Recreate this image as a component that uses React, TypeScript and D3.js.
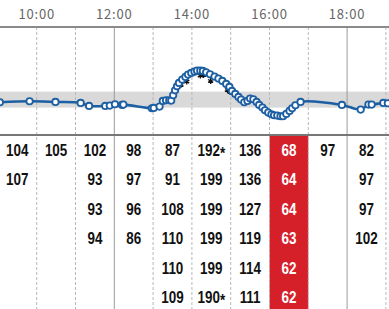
import React from "react";
import * as d3 from "d3";

const W = 389;
const H = 309;

// axis tick labels (hours)
const tickHours = [10, 12, 14, 16, 18];
const tickLabels = ["10:00", "12:00", "14:00", "16:00", "18:00"];
const gridHours = [10, 11, 12, 13, 14, 15, 16, 17, 18, 19];
const solidGridHours = [12, 18];

// target band (mg/dL)
const bandLow = 88;
const bandHigh = 136;

// glucose readings
const readingTimes = [
  "9:03", "9:49", "10:29", "11:08", "11:21", "11:46", "11:53", "12:01", "12:12", "12:14",
  "12:58", "13:01", "13:10", "13:15", "13:20", "13:25", "13:28", "13:31", "13:34", "13:37",
  "13:40", "13:45", "13:50", "13:54", "13:59", "14:04", "14:08", "14:13", "14:17", "14:22",
  "14:28", "14:35", "14:41", "14:47", "14:53", "14:58", "15:02", "15:07", "15:12", "15:16",
  "15:21", "15:26", "15:30", "15:35", "15:40", "15:44", "15:49", "15:53", "15:58", "16:03",
  "16:07", "16:12", "16:17", "16:21", "16:26", "16:31", "16:35", "16:40", "16:48", "17:52",
  "18:21", "18:33", "18:38", "18:56", "19:03",
];
const readingValues = [
  104, 107, 105, 102, 93, 93, 94, 98, 96, 97,
  86, 87, 91, 108, 110, 110, 109, 125, 140, 152,
  162, 172, 180, 187, 192, 196, 199, 199, 198, 194,
  188, 181, 175, 168, 159, 150, 138, 129, 120, 112,
  104, 108, 115, 113, 105, 96, 88, 80, 73, 68,
  65, 64, 62, 62, 69, 78, 86, 95, 105, 96,
  82, 97, 97, 102, 101,
];

// secondary "*" readings
const starTimes = ["13:43", "13:52", "14:13", "14:18", "14:29", "14:55", "14:59"];
const starValues = [156, 166, 184, 186, 168, 141, 135];

// table: readings per hour column
const tableHours = [9, 10, 11, 12, 13, 14, 15, 16, 17, 18];
const tableValues: string[][] = [
  ["104", "107"],
  ["105"],
  ["102", "93", "93", "94"],
  ["98", "97", "96", "86"],
  ["87", "91", "108", "110", "110", "109"],
  ["192*", "199", "199", "199", "199", "190*"],
  ["136", "136", "127", "119", "114", "111"],
  ["68", "64", "64", "63", "62", "62"],
  ["97"],
  ["82", "97", "97", "102"],
];
const alertHours = [16];

const toHour = (s: string) => {
  const [h, m] = s.split(":").map(Number);
  return h + m / 60;
};

export default function App() {
  const x = d3.scaleLinear().domain([10, 19]).range([36.7, 385.9]);
  const y = d3.scaleLinear().domain([0, 330]).range([136.9, 27]);

  const pts: [number, number][] = readingTimes.map((t, i) => [x(toHour(t)), y(readingValues[i])]);
  const line = d3.line().curve(d3.curveCatmullRom.alpha(0.5))(pts) || "";
  const star = d3.symbol(d3.symbolAsterisk, 24)() || "";

  const plotTop = 27;
  const plotBottom = 135;
  const rowBase = 156;
  const rowStep = 29.4;

  return (
    <svg
      width={W}
      height={H}
      style={{ position: "absolute", left: 0, top: 0, background: "#fff" }}
      fontFamily="'Liberation Sans', Arial, sans-serif"
    >
      {/* alert column */}
      {alertHours.map((h) => (
        <rect key={h} x={x(h)} y={plotBottom + 1} width={x(h + 1) - x(h)} height={H - plotBottom - 1} fill="#d5202a" />
      ))}
      {/* target band */}
      <rect x={0} y={y(bandHigh)} width={W} height={y(bandLow) - y(bandHigh)} fill="#d9d9d9" />
      {/* grid */}
      {gridHours.map((h) => {
        const solid = solidGridHours.includes(h);
        return (
          <line
            key={h}
            x1={x(h)}
            x2={x(h)}
            y1={plotTop}
            y2={H}
            stroke={solid ? "#9a9a9a" : "#b8b8b8"}
            strokeWidth={1}
            strokeDasharray={solid ? undefined : "3,2"}
          />
        );
      })}
      <line x1={0} x2={W} y1={plotTop} y2={plotTop} stroke="#8a8a8a" strokeWidth={2} />
      <line x1={0} x2={W} y1={plotBottom} y2={plotBottom} stroke="#777" strokeWidth={2} />
      {/* tick labels */}
      {tickHours.map((h, i) => (
        <text
          key={h}
          x={x(h)}
          y={18.5}
          textAnchor="middle"
          fontSize={13}
          letterSpacing={0.8}
          fill="#666"
          fontFamily="'Noto Sans CJK JP', sans-serif"
        >
          {tickLabels[i]}
        </text>
      ))}
      {/* line */}
      <path d={line} fill="none" stroke="#1d5fa3" strokeWidth={2.6} />
      {/* stars */}
      {starTimes.map((t, i) => (
        <path
          key={i}
          d={star}
          transform={`translate(${x(toHour(t))},${y(starValues[i])})`}
          fill="none"
          stroke="#111"
          strokeWidth={1.3}
        />
      ))}
      {/* points */}
      {pts.map((p, i) => (
        <circle key={i} cx={p[0]} cy={p[1]} r={3.2} fill="#fff" stroke="#1d5fa3" strokeWidth={1.8} />
      ))}
      {/* table */}
      {tableHours.map((h, ci) => {
        const cx = (x(h) + x(h + 1)) / 2;
        const alert = alertHours.includes(h);
        return tableValues[ci].map((v, ri) => {
          const hasStar = v.endsWith("*");
          const num = hasStar ? v.slice(0, -1) : v;
          return (
            <g key={`${ci}-${ri}`} transform={`translate(${cx},${rowBase + ri * rowStep}) scale(0.84,1)`}>
              <text textAnchor="middle" fontSize={16} fontWeight="bold" fill={alert ? "#fff" : "#111"}>
                {num}
                {hasStar ? <tspan dy={2.5}>*</tspan> : null}
              </text>
            </g>
          );
        });
      })}
    </svg>
  );
}
